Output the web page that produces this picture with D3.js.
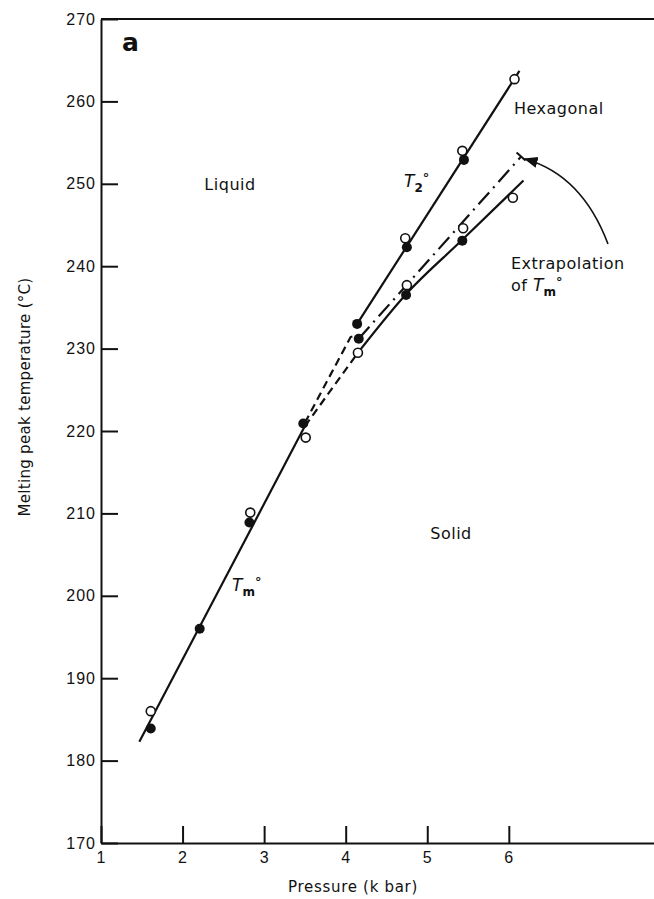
<!DOCTYPE html>
<meta charset="utf-8">
<style>
body { margin: 0; background: #fff; }
svg { font-family: "DejaVu Sans", sans-serif; }
.axis path, .axis line { stroke: #111; stroke-width: 2; }
.axis text { font-size: 16px; letter-spacing: 1px; fill: #111; }
.lbl { font-size: 16px; letter-spacing: 0.5px; fill: #111; }
.fit { fill: none; stroke: #111; stroke-width: 2.2; }
</style>
<svg width="654" height="899"></svg>
<script src="https://d3js.org/d3.v7.min.js"></script>
<script>

// measured points (pressure in kbar, temperature in °C)
var openP   = [1.61, 2.83, 3.51, 4.15, 4.73, 4.75, 5.43, 5.44, 6.07, 6.05];
var openT   = [186.0, 210.1, 219.2, 229.5, 243.4, 237.7, 254.0, 244.6, 262.7, 248.3];
var filledP = [1.61, 2.21, 2.82, 3.48, 4.14, 4.16, 4.74, 4.75, 5.45, 5.43];
var filledT = [183.9, 196.0, 208.9, 220.9, 233.0, 231.2, 236.5, 242.3, 252.9, 243.1];

// drawn curves
var tmP = [1.47, 3.50], tmT = [182.3, 220.6];
var dashAP = [3.50, 4.06, 4.12], dashAT = [221.0, 231.4, 231.6];
var dashBP = [3.50, 4.15], dashBT = [220.6, 229.5];
var lowP = [4.15, 4.74, 5.43, 6.18], lowT = [229.5, 236.6, 243.2, 250.4];
var extP = [4.16, 6.15], extT = [231.2, 253.3];
var t2P = [4.14, 6.13], t2T = [233.0, 263.7];

var xTicks = [1, 2, 3, 4, 5, 6];
var yTicks = [170, 180, 190, 200, 210, 220, 230, 240, 250, 260, 270];

var svg = d3.select("svg");

var x = d3.scaleLinear().domain([1, 7.78]).range([101, 654]);
var y = d3.scaleLinear().domain([170, 270]).range([843, 19]);

function pts(P, T) { return P.map(function(p, i) { return [p, T[i]]; }); }
var line = d3.line().x(function(d) { return x(d[0]); }).y(function(d) { return y(d[1]); });

// top frame
svg.append("line")
    .attr("x1", x(1)).attr("x2", x(7.78))
    .attr("y1", y(270)).attr("y2", y(270))
    .attr("stroke", "#111").attr("stroke-width", 2);

svg.append("g")
    .attr("class", "axis")
    .attr("transform", "translate(" + x(1) + ",0)")
    .call(d3.axisLeft(y).tickValues(yTicks).tickSize(-17).tickSizeOuter(0).tickPadding(5));

svg.append("g")
    .attr("class", "axis")
    .attr("transform", "translate(0," + y(170) + ")")
    .call(d3.axisBottom(x).tickValues(xTicks).tickFormat(d3.format("d"))
        .tickSize(-17).tickSizeOuter(0).tickPadding(9));

// curves
svg.append("path").attr("class", "fit").attr("d", line(pts(tmP, tmT)));
svg.append("path").attr("class", "fit").attr("stroke-dasharray", "8,5").attr("d", line(pts(dashAP, dashAT)));
svg.append("path").attr("class", "fit").attr("stroke-dasharray", "8,5").attr("d", line(pts(dashBP, dashBT)));
svg.append("path").attr("class", "fit").attr("d", line.curve(d3.curveMonotoneX)(pts(lowP, lowT)));
line.curve(d3.curveLinear);
svg.append("path").attr("class", "fit").attr("stroke-dasharray", "16,6,2,6").attr("d", line(pts(extP, extT)));
svg.append("path").attr("class", "fit").attr("d", line(pts(t2P, t2T)));

// little bar closing the extrapolation
var ex = x(extP[1]), ey = y(extT[1]);
var dx = x(extP[1]) - x(extP[0]), dy = y(extT[1]) - y(extT[0]);
var len = Math.sqrt(dx * dx + dy * dy);
svg.append("line")
    .attr("x1", ex - dy / len * 6).attr("y1", ey + dx / len * 6)
    .attr("x2", ex + dy / len * 6).attr("y2", ey - dx / len * 6)
    .attr("stroke", "#111").attr("stroke-width", 2);

// points
svg.append("g").selectAll("circle")
    .data(pts(filledP, filledT))
  .enter().append("circle")
    .attr("cx", function(d) { return x(d[0]); })
    .attr("cy", function(d) { return y(d[1]); })
    .attr("r", 5)
    .attr("fill", "#111");

svg.append("g").selectAll("circle")
    .data(pts(openP, openT))
  .enter().append("circle")
    .attr("cx", function(d) { return x(d[0]); })
    .attr("cy", function(d) { return y(d[1]); })
    .attr("r", 4.5)
    .attr("fill", "#fff")
    .attr("stroke", "#111")
    .attr("stroke-width", 1.6);

// arrow
svg.append("defs").append("marker")
    .attr("id", "head")
    .attr("viewBox", "0 0 10 10")
    .attr("refX", 9).attr("refY", 5)
    .attr("markerWidth", 14).attr("markerHeight", 14)
    .attr("markerUnits", "userSpaceOnUse")
    .attr("orient", "auto")
  .append("path")
    .attr("d", "M0,1 L10,5 L0,9 Z")
    .attr("fill", "#111");

svg.append("path")
    .attr("d", "M608,244 Q582,175 525,159")
    .attr("fill", "none")
    .attr("stroke", "#111")
    .attr("stroke-width", 1.6)
    .attr("marker-end", "url(#head)");

// labels
svg.append("text").attr("x", 122).attr("y", 51)
    .style("font-size", "25px").style("font-weight", "bold").attr("fill", "#111").text("a");

svg.append("text").attr("class", "lbl").attr("x", 230).attr("y", 190).attr("text-anchor", "middle").text("Liquid");
svg.append("text").attr("class", "lbl").attr("x", 514).attr("y", 114).text("Hexagonal");
svg.append("text").attr("class", "lbl").attr("x", 451).attr("y", 539).attr("text-anchor", "middle").text("Solid");
svg.append("text").attr("class", "lbl").attr("x", 511).attr("y", 269).text("Extrapolation");

// T with subscript and degree sign, laid out in one flowing text
function tLabel(px, py, pre, sub) {
  var g = svg.append("text").attr("x", px).attr("y", py).attr("fill", "#111");
  if (pre) g.append("tspan").attr("class", "lbl").text(pre + " ");
  g.append("tspan")
      .style("font-size", "17px").style("font-style", "italic").text("T");
  g.append("tspan").attr("dy", 5)
      .style("font-size", "12px").style("font-weight", "bold").text(sub);
  g.append("tspan").attr("dy", -10)
      .style("font-size", "13px").style("font-weight", "bold").text("°");
}
tLabel(404, 187, null, "2");
tLabel(232, 591, null, "m");
tLabel(511, 291, "of", "m");

svg.append("text")
    .attr("transform", "translate(30,397) rotate(-90)")
    .attr("text-anchor", "middle")
    .style("font-size", "15px").style("letter-spacing", "0.3px")
    .attr("fill", "#111")
    .text("Melting peak temperature (°C)");

svg.append("text")
    .attr("x", 353).attr("y", 892)
    .attr("text-anchor", "middle")
    .style("font-size", "15px").style("letter-spacing", "0.7px")
    .attr("fill", "#111")
    .text("Pressure (k bar)");

</script>
